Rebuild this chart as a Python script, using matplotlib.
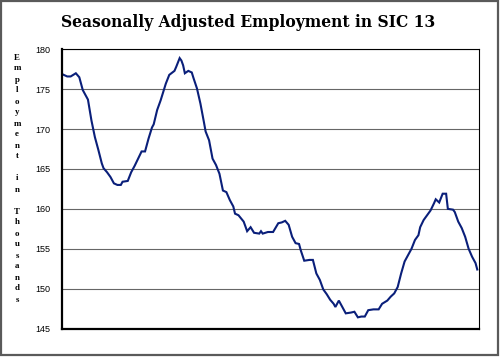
import matplotlib
matplotlib.use("Agg")
import matplotlib.pyplot as plt
from matplotlib.patches import Rectangle

# Data (month index, employment in thousands)
months = [0, 3, 5, 8, 10, 12, 14, 15, 17, 19, 21, 23, 24, 26, 28, 30, 32, 34, 35, 38,
          40, 42, 44, 46, 48, 50, 52, 53, 55, 57, 60, 62, 65, 66, 68, 69, 70, 71, 73, 75,
          76, 78, 80, 82, 83, 85, 87, 89, 91, 93, 95, 97, 99, 100, 102, 105, 107, 109, 111, 114,
          115, 116, 119, 122, 125, 127, 129, 131, 133, 135, 137, 138, 140, 143, 145, 147, 149, 151, 153, 155,
          157, 158, 160, 162, 164, 167, 169, 171, 173, 175, 177, 180, 183, 185, 188, 190, 192, 194, 196, 198,
          200, 202, 204, 206, 207, 209, 211, 213, 215, 216, 218, 220, 222, 223, 226, 227, 229, 231, 233, 235,
          237, 239, 240]
employment = [176.9, 176.6, 176.6, 177.0, 176.5, 174.9, 174.1, 173.7, 171.1, 169.0, 167.4, 165.7, 165.1, 164.6, 164.0, 163.2, 163.0, 163.0, 163.4, 163.5,
              164.6, 165.4, 166.3, 167.2, 167.2, 168.8, 170.2, 170.6, 172.4, 173.6, 175.7, 176.8, 177.3, 177.8, 178.9, 178.6, 178.0, 177.0, 177.3, 177.1,
              176.4, 175.1, 173.2, 170.9, 169.7, 168.6, 166.3, 165.5, 164.4, 162.3, 162.1, 161.1, 160.3, 159.4, 159.2, 158.4, 157.2, 157.7, 157.0, 156.9,
              157.2, 156.9, 157.1, 157.1, 158.2, 158.3, 158.5, 158.0, 156.5, 155.7, 155.6, 154.8, 153.5, 153.6, 153.6, 151.9, 151.1, 149.9, 149.3, 148.6,
              148.1, 147.7, 148.5, 147.7, 146.9, 147.0, 147.1, 146.4, 146.5, 146.5, 147.3, 147.4, 147.4, 148.1, 148.5, 149.0, 149.4, 150.2, 151.9, 153.4,
              154.2, 155.0, 156.1, 156.7, 157.7, 158.6, 159.2, 159.8, 160.7, 161.2, 160.8, 161.9, 161.9, 160.0, 159.9, 159.6, 158.4, 157.6, 156.5, 155.0,
              154.0, 153.2, 152.4]
yticks = [145, 150, 155, 160, 165, 170, 175, 180]
title = "Seasonally Adjusted Employment in SIC 13"
ylabel = "Employment in Thousands"

fig = plt.figure(figsize=(5.0, 3.57), dpi=100)
fig.patch.set_facecolor("white")

# outer frame
fig.patches.append(Rectangle((0.002, 0.006), 0.993, 0.99, transform=fig.transFigure,
                             fill=False, edgecolor="#5a5a5a", linewidth=1.6))

ax = fig.add_axes([0.124, 0.0798, 0.834, 0.782])
ax.plot(months, employment, color="#0a1f7a", linewidth=1.5, solid_joinstyle="miter")
ax.set_xlim(0, 241)
ax.set_ylim(145, 180)
ax.set_yticks(yticks)
ax.set_yticklabels([str(t) for t in yticks], fontsize=6.5, family="Liberation Sans")
ax.set_xticks([])
ax.tick_params(axis="y", length=0, pad=8.5)
ax.yaxis.grid(True, color="#666666", linewidth=0.8)
ax.set_axisbelow(True)
for s in ("left", "bottom"):
    ax.spines[s].set_linewidth(1.6)
for s in ("top", "right"):
    ax.spines[s].set_linewidth(0.8)
for s in ax.spines.values():
    s.set_color("black")

fig.text(0.496, 0.938, title, ha="center", va="center", fontsize=11.2,
         family="DejaVu Serif", fontweight="bold")
fig.text(0.034, 0.5, "\n".join(ylabel), ha="center", va="center", fontsize=6.4,
         family="Liberation Serif", fontweight="bold", linespacing=1.5)

fig.savefig("out.png", dpi=100)
